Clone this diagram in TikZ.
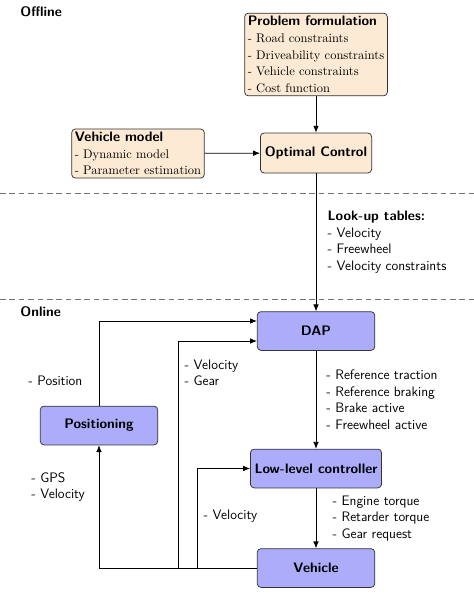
\documentclass[tikz,border=0pt]{standalone}
\usepackage{tikz}
\usetikzlibrary{arrows.meta}
\tikzset{>={Latex[length=5.5pt,width=4.5pt]}}
\definecolor{offcol}{RGB}{253,234,213}
\definecolor{oncol}{RGB}{172,172,250}

\begin{document}
\begin{tikzpicture}[x=0.8pt,y=-0.8pt, line width=0.6pt,
    offbox/.style={draw=black!80, fill=offcol, rounded corners=3pt, align=left, inner sep=2.5pt, font=\fontsize{10}{13.3}\selectfont},
    onbox/.style={draw=black!80, fill=oncol, rounded corners=3pt, font=\sffamily\bfseries\fontsize{11}{13.3}\selectfont, minimum width=94pt, minimum height=31pt},
    lbl/.style={align=left, font=\sffamily\fontsize{11}{13.3}\selectfont, inner sep=1pt},
    sep/.style={draw=black!55, line width=0.5pt, dash pattern=on 4.5pt off 3pt}]

    \useasboundingbox (0,0) rectangle (474,607);

    % offline part
    \node[anchor=west, inner sep=0pt, font=\sffamily\bfseries\fontsize{11}{13.3}\selectfont] (offline) at (20,12) {Offline};
    \node[offbox] (prob) at (316,54.5) {\textsf{\textbf{\fontsize{11}{13.3}\selectfont Problem formulation}}\\- Road constraints\\- Driveability constraints\\- Vehicle constraints\\- Cost function};
    \node[offbox] (model) at (138,153.5) {\textsf{\textbf{\fontsize{11}{13.3}\selectfont Vehicle model}}\\- Dynamic model\\- Parameter estimation};
    \node[onbox, fill=offcol, minimum width=89pt, minimum height=32pt] (oc) at (316,153) {Optimal Control};

    \draw[->] (prob) -- (oc);
    \draw[->] (model) -- (oc);

    \draw[sep] (0,193) -- (474,193);
    \draw[sep] (0,299) -- (474,299);

    % online part
    \node[anchor=west, inner sep=0pt, font=\sffamily\bfseries\fontsize{11}{13.3}\selectfont] (online) at (20,312) {Online};
    \node[onbox] (dap) at (316,331) {DAP};
    \node[onbox] (pos) at (99,425.5) {Positioning};
    \node[onbox] (llc) at (316,468.5) {Low-level controller};
    \node[onbox] (veh) at (316,568) {Vehicle};

    \coordinate (vg) at (178,568);
    \coordinate (vl) at (197,568);

    \draw[->] (oc) -- (dap) node[midway, right=8pt, lbl] {\textbf{Look-up tables:}\\- Velocity\\- Freewheel\\- Velocity constraints};
    \draw[->] (dap) -- (llc) node[midway, right=7pt, lbl] {- Reference traction\\- Reference braking\\- Brake active\\- Freewheel active};
    \draw[->] (llc) -- (veh) node[midway, right=12pt, lbl] {- Engine torque\\- Retarder torque\\- Gear request};

    \draw[->] (veh.west) -| (pos.south) node[pos=0.83, left=10pt, lbl] {- GPS\\- Velocity};
    \draw[->] (pos.north) |- ([yshift=8pt]dap.west) node[pos=0.15, left=12pt, lbl] {- Position};
    \draw[->] (vg) |- ([yshift=-8pt]dap.west) node[pos=0.43, right=4pt, lbl] {- Velocity\\- Gear};
    \draw[->] (vl) |- (llc.west) node[pos=0.26, right=4pt, lbl] {- Velocity};

\end{tikzpicture}
\end{document}
